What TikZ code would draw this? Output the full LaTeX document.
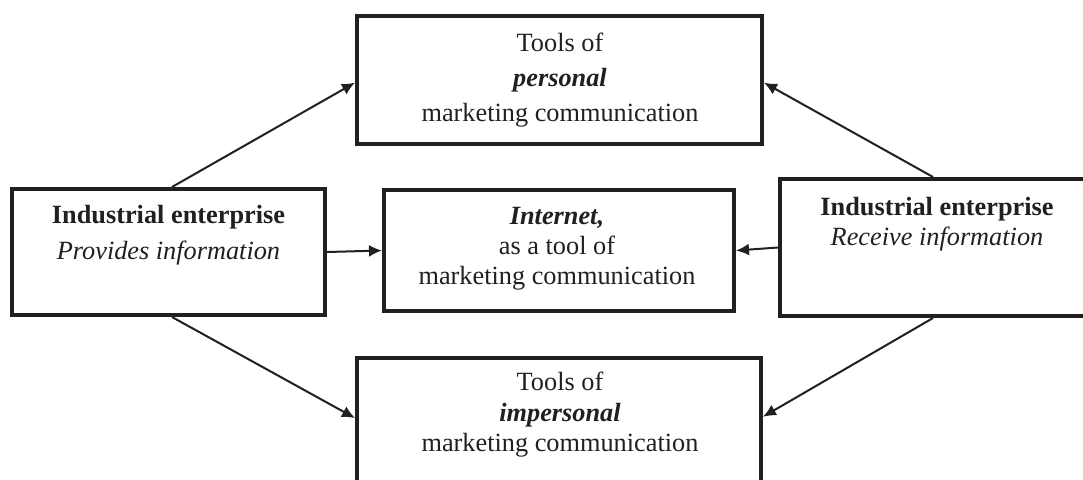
\documentclass[tikz,border=0pt]{standalone}
\usepackage{fontspec}
\setmainfont{Liberation Serif}
\usetikzlibrary{arrows.meta,calc}
\definecolor{ink}{RGB}{35,31,32}
\begin{document}
\begin{tikzpicture}[x=0.5pt,y=-0.5pt,
  box/.style={draw=ink,line width=2pt,inner sep=0pt,fill=white},
  txt/.style={text=ink,align=center,inner sep=0pt},
  link/.style={draw=ink,line width=1pt,-{Latex[length=6.5pt,width=6pt]}}]
  % frame of the page
  \clip (0,0) rectangle (1083,479);

  % boxes
  \node[box,minimum width=202.5pt,minimum height=64pt]   (top)    at (559.5,80)  {};
  \node[box,minimum width=156.5pt,minimum height=63pt]   (left)   at (168.5,252) {};
  \node[box,minimum width=175pt,minimum height=60.5pt]   (mid)    at (559,250.5) {};
  \node[box,minimum width=157.5pt,minimum height=68.5pt] (right)  at (937.5,247.5) {};
  \node[box,minimum width=202pt,minimum height=64pt]     (bottom) at (559,422) {};

  % texts
  \node[txt,font=\fontsize{13.15}{17.5}\selectfont] (topTxt) at (560,80)
    {Tools of\\\textbf{\textit{personal}}\\marketing communication};
  \node[txt,font=\fontsize{13.15}{18}\selectfont] (leftTxt) at (168.5,235.5)
    {\textbf{Industrial enterprise}\\\textit{Provides information}};
  \node[txt,font=\fontsize{13.15}{15}\selectfont] (midTxt) at (557,249)
    {\textbf{\textit{Internet,}}\\as a tool of\\marketing communication};
  \node[txt,font=\fontsize{13.15}{15}\selectfont] (rightTxt) at (937,224)
    {\textbf{Industrial enterprise}\\\textit{Receive information}};
  \node[txt,font=\fontsize{13.15}{15.25}\selectfont] (bottomTxt) at (560,415)
    {Tools of\\\textbf{\textit{impersonal}}\\marketing communication};

  % connectors
  \draw[link] ($(left.north west)!0.511!(left.north east)$) -- ($(top.north west)!0.52!(top.south west)$);
  \draw[link] ($(left.south west)!0.511!(left.south east)$) -- ($(bottom.north west)!0.47!(bottom.south west)$);
  \draw[link] (left.east) -- (mid.west);
  \draw[link] (right.west) -- (mid.east);
  \draw[link] ($(right.north west)!0.486!(right.north east)$) -- ($(top.north east)!0.52!(top.south east)$);
  \draw[link] ($(right.south west)!0.486!(right.south east)$) -- ($(bottom.north east)!0.46!(bottom.south east)$);
\end{tikzpicture}
\end{document}
